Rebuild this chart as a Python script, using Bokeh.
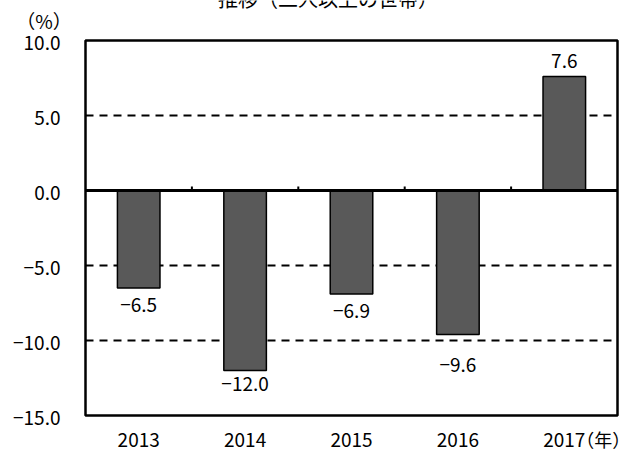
from bokeh.plotting import figure
from bokeh.models import Range1d, LabelSet, ColumnDataSource
from bokeh.core.properties import value
from bokeh.embed import file_html
from bokeh.resources import INLINE

years = ["2013", "2014", "2015", "2016", "2017"]
values = [-6.5, -12.0, -6.9, -9.6, 7.6]
y_ticks = [-15, -10, -5, 0, 5, 10]
title_text = "推移（二人以上の世帯）"
y_unit = "（%）"
x_unit = "（年）"

FONT = "Noto Sans CJK JP"
FS = "19px"
W, H = 630, 450
# pixel margins around the plotting box
ML, MR, MT, MB = 85, 13, 40, 35
ymin, ymax = min(y_ticks), max(y_ticks)
n = len(years)
xmin, xmax = -0.5, n - 0.5
ppu_x = (W - ML - MR) / (xmax - xmin)
ppu_y = (H - MT - MB) / (ymax - ymin)


def fmt(v):
    return f"{v:.1f}".replace("-", "\u2212")


xs = list(range(n))
p = figure(width=W, height=H,
           x_range=Range1d(xmin - ML / ppu_x, xmax + MR / ppu_x),
           y_range=Range1d(ymin - MB / ppu_y, ymax + MT / ppu_y),
           output_backend="svg", toolbar_location=None,
           x_axis_location=None, y_axis_location=None, min_border=0)
p.background_fill_color = "white"
p.border_fill_color = "white"
p.outline_line_color = None
p.grid.visible = False

# dashed grid lines
grid_y = [t for t in y_ticks if t not in (0, ymin, ymax)]
p.segment(x0=[xmin] * len(grid_y), y0=grid_y, x1=[xmax] * len(grid_y), y1=grid_y,
          line_color="black", line_width=2, line_dash="8 6")

# bars
p.vbar(x=xs, top=values, bottom=0, width=0.4, fill_color="#595959",
       line_color="black", line_width=1.5)

# zero line and category ticks
p.segment(x0=[xmin], y0=[0], x1=[xmax], y1=[0], line_color="black", line_width=3)
bounds = [i + 0.5 for i in range(n - 1)]
p.segment(x0=bounds, y0=[0] * len(bounds), x1=bounds,
          y1=[4 / ppu_y] * len(bounds), line_color="black", line_width=2)

# plot box
p.quad(left=[xmin], right=[xmax], bottom=[ymin], top=[ymax], fill_color=None,
       line_color="black", line_width=2.5)


def labels(x, y, t, size=FS, align="center", xo=0, yo=0):
    src = ColumnDataSource(dict(x=x, y=y, t=t, yo=yo if isinstance(yo, list) else [yo] * len(x)))
    p.add_layout(LabelSet(x="x", y="y", text="t", source=src, x_offset=xo, y_offset="yo",
                          text_align=align, text_baseline="alphabetic",
                          text_font=value(FONT), text_font_size=value(size),
                          text_color="black"))


# y tick labels
labels([xmin] * len(y_ticks), y_ticks, [fmt(t) for t in y_ticks], align="right", xo=-25, yo=-9)

# x tick labels and unit
labels(xs, [ymin] * n, years, yo=-31)
labels([n - 1], [ymin], [x_unit], size="18px", align="left", xo=12, yo=-31)

# value labels
nudge = [0, 4, 0, -13, 0]
offs = [(8.5 if v >= 0 else -24) + d for v, d in zip(values, nudge)]
labels(xs, values, [fmt(v) for v in values], yo=offs)

# y unit and (cropped) title
labels([xmin], [ymax], [y_unit], xo=-41.5, yo=11.5)
labels([xmin], [ymax], [title_text], size="20px", xo=242.5, yo=34)

open("out.html", "w").write(file_html(p, INLINE))
